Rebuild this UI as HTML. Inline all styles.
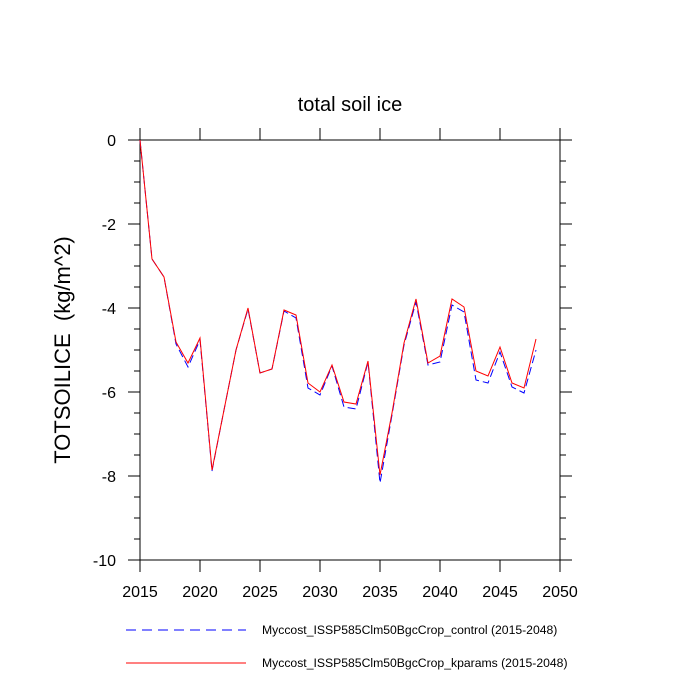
<!DOCTYPE html>
<html><head><style>body{margin:0;background:#fff}svg{display:block}</style></head><body>
<svg width="700" height="700" xmlns="http://www.w3.org/2000/svg" font-family="Liberation Sans, sans-serif">
<rect width="700" height="700" fill="#fff"/>
<text x="350" y="111" font-size="20" text-anchor="middle">total soil ice</text>
<text transform="translate(70,350) rotate(-90)" font-size="22" text-anchor="middle" xml:space="preserve">TOTSOILICE  (kg/m^2)</text>
<g stroke="#000" stroke-width="1" fill="none">
<rect x="140" y="140" width="420" height="420"/>
</g>
<g stroke="#000" stroke-width="1">
<line x1="140" y1="140" x2="140" y2="128"/><line x1="200" y1="140" x2="200" y2="128"/><line x1="260" y1="140" x2="260" y2="128"/><line x1="320" y1="140" x2="320" y2="128"/><line x1="380" y1="140" x2="380" y2="128"/><line x1="440" y1="140" x2="440" y2="128"/><line x1="500" y1="140" x2="500" y2="128"/><line x1="560" y1="140" x2="560" y2="128"/>
<line x1="140" y1="560" x2="140" y2="572"/><line x1="200" y1="560" x2="200" y2="572"/><line x1="260" y1="560" x2="260" y2="572"/><line x1="320" y1="560" x2="320" y2="572"/><line x1="380" y1="560" x2="380" y2="572"/><line x1="440" y1="560" x2="440" y2="572"/><line x1="500" y1="560" x2="500" y2="572"/><line x1="560" y1="560" x2="560" y2="572"/>
<line x1="128" y1="140" x2="140" y2="140"/><line x1="128" y1="224" x2="140" y2="224"/><line x1="128" y1="308" x2="140" y2="308"/><line x1="128" y1="392" x2="140" y2="392"/><line x1="128" y1="476" x2="140" y2="476"/><line x1="128" y1="560" x2="140" y2="560"/>
<line x1="560" y1="140" x2="572" y2="140"/><line x1="560" y1="224" x2="572" y2="224"/><line x1="560" y1="308" x2="572" y2="308"/><line x1="560" y1="392" x2="572" y2="392"/><line x1="560" y1="476" x2="572" y2="476"/><line x1="560" y1="560" x2="572" y2="560"/>
</g>
<g stroke="#000" stroke-width="1">
<path d="M134 161H140M134 182H140M134 203H140M134 245H140M134 266H140M134 287H140M134 329H140M134 350H140M134 371H140M134 413H140M134 434H140M134 455H140M134 497H140M134 518H140M134 539H140"/>
<path d="M560 161H566M560 182H566M560 203H566M560 245H566M560 266H566M560 287H566M560 329H566M560 350H566M560 371H566M560 413H566M560 434H566M560 455H566M560 497H566M560 518H566M560 539H566"/>
</g>
<g font-size="16" text-anchor="end">
<text x="116" y="146">0</text><text x="116" y="230">-2</text><text x="116" y="314">-4</text><text x="116" y="398">-6</text><text x="116" y="482">-8</text><text x="116" y="566">-10</text>
</g>
<g font-size="16" text-anchor="middle">
<text x="140" y="597">2015</text><text x="200" y="597">2020</text><text x="260" y="597">2025</text><text x="320" y="597">2030</text><text x="380" y="597">2035</text><text x="440" y="597">2040</text><text x="500" y="597">2045</text><text x="560" y="597">2050</text>
</g>
<polyline fill="none" stroke="#00f" stroke-width="1" stroke-dasharray="8,4" points="140,140 152,259 164,277 176,344 188,367 200,340 212,471 224,410 236,350 248,309 260,373 272,369 284,311 296,318 308,388 320,395 332,366 344,407 356,409 368,362 380,483 392,415 404,345 416,302 428,365 440,362 452,305 464,312 476,380 488,383 500,352 512,387 524,393 536,350"/>
<polyline fill="none" stroke="#f00" stroke-width="1" points="140,140 152,259 164,277 176,342 188,363 200,338 212,470 224,410 236,350 248,308 260,373 272,369 284,310 296,315 308,383 320,392 332,365 344,402 356,404 368,361 380,475 392,413 404,343 416,299 428,363 440,356 452,299 464,307 476,371 488,376 500,347 512,383 524,388 536,339"/>
<line x1="126" y1="630" x2="246" y2="630" stroke="#00f" stroke-dasharray="10,6"/>
<line x1="126" y1="663" x2="246" y2="663" stroke="#f00"/>
<g font-size="12.2"><text x="262" y="634">Myccost_ISSP585Clm50BgcCrop_control (2015-2048)</text><text x="262" y="667">Myccost_ISSP585Clm50BgcCrop_kparams (2015-2048)</text></g>
</svg>
</body></html>
